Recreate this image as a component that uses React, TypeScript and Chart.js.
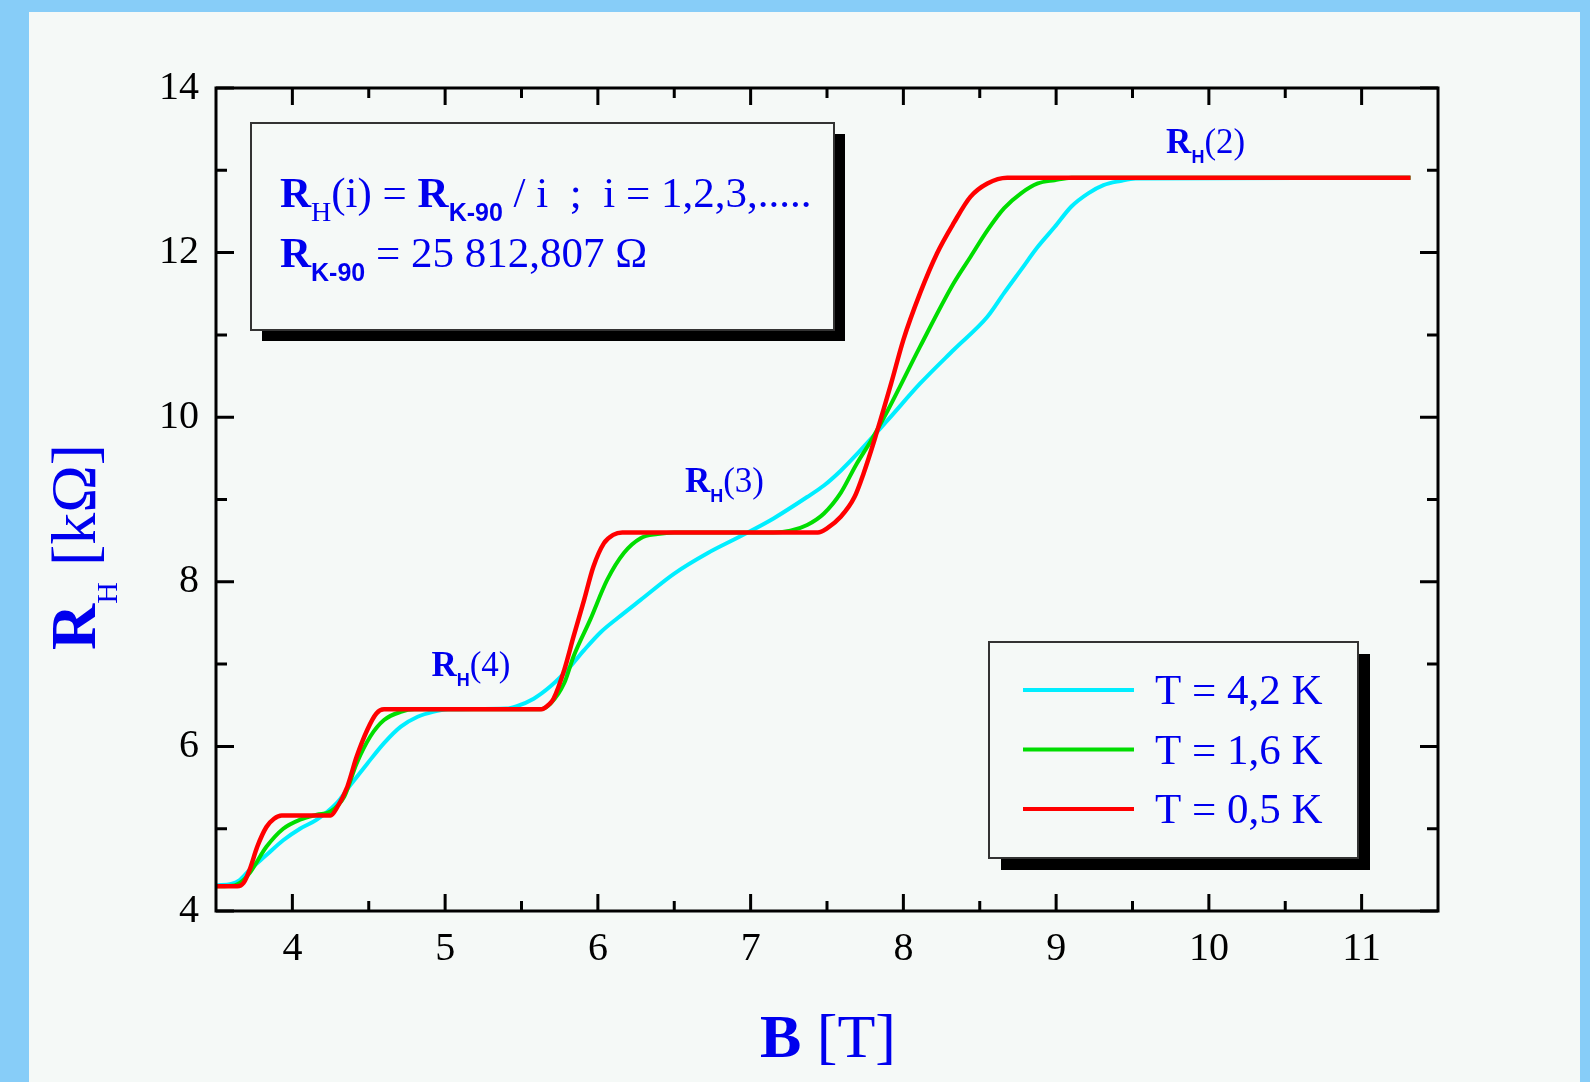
import React, { useEffect, useRef } from 'react';
import { Chart, registerables } from 'chart.js';

Chart.register(...registerables);

// ---- data ----
const B_42 = [3.50, 3.60, 3.65, 3.72, 3.83, 3.94, 4.05, 4.16, 4.29, 4.38, 4.49, 4.60, 4.71, 4.82, 4.92, 5.02, 5.40, 5.47, 5.58, 5.69, 5.80, 5.91, 6.02, 6.13, 6.28, 6.50, 6.72, 6.93, 7.15, 7.37, 7.48, 7.59, 7.68, 7.90, 8.11, 8.33, 8.55, 8.66, 8.77, 8.88, 8.99, 9.10, 9.21, 9.31, 9.42, 9.52, 11.32];
const R_42 = [4.31, 4.33, 4.37, 4.50, 4.68, 4.86, 5.00, 5.11, 5.31, 5.53, 5.79, 6.04, 6.24, 6.36, 6.42, 6.45, 6.46, 6.49, 6.58, 6.73, 6.93, 7.17, 7.39, 7.56, 7.78, 8.10, 8.35, 8.55, 8.77, 9.03, 9.17, 9.35, 9.52, 9.97, 10.41, 10.82, 11.22, 11.51, 11.79, 12.07, 12.31, 12.56, 12.72, 12.82, 12.87, 12.90, 12.91];

const B_16 = [3.50, 3.62, 3.67, 3.72, 3.83, 3.94, 4.05, 4.16, 4.25, 4.34, 4.42, 4.51, 4.60, 4.71, 4.80, 5.62, 5.69, 5.78, 5.84, 5.95, 6.06, 6.17, 6.28, 6.39, 6.50, 7.15, 7.26, 7.37, 7.48, 7.59, 7.69, 7.79, 7.90, 8.11, 8.33, 8.44, 8.55, 8.66, 8.77, 8.88, 8.99, 9.10, 11.32];
const R_16 = [4.30, 4.31, 4.36, 4.46, 4.78, 5.00, 5.11, 5.17, 5.21, 5.39, 5.79, 6.12, 6.32, 6.42, 6.45, 6.45, 6.52, 6.77, 7.09, 7.54, 8.02, 8.35, 8.53, 8.58, 8.60, 8.60, 8.62, 8.69, 8.83, 9.08, 9.42, 9.72, 10.09, 10.86, 11.63, 11.95, 12.27, 12.54, 12.72, 12.84, 12.88, 12.91, 12.91];

const B_05 = [3.50, 3.64, 3.68, 3.72, 3.77, 3.83, 3.88, 3.93, 4.25, 4.29, 4.36, 4.42, 4.49, 4.55, 4.60, 4.64, 5.63, 5.68, 5.71, 5.78, 5.84, 5.91, 5.97, 6.04, 6.10, 6.16, 7.44, 7.50, 7.59, 7.68, 7.74, 7.81, 7.92, 8.00, 8.11, 8.22, 8.33, 8.44, 8.55, 8.68, 11.32];
const R_05 = [4.30, 4.30, 4.34, 4.50, 4.78, 5.02, 5.12, 5.16, 5.16, 5.25, 5.51, 5.87, 6.20, 6.40, 6.45, 6.45, 6.45, 6.51, 6.58, 6.93, 7.33, 7.78, 8.18, 8.47, 8.57, 8.60, 8.60, 8.65, 8.79, 9.03, 9.32, 9.72, 10.41, 10.94, 11.51, 11.99, 12.36, 12.68, 12.84, 12.91, 12.91];

const SERIES_LABELS = ['T = 4,2 K', 'T = 1,6 K', 'T = 0,5 K'];
const X_TICKS = [4, 5, 6, 7, 8, 9, 10, 11];
const X_MINOR = [4.5, 5.5, 6.5, 7.5, 8.5, 9.5, 10.5];
const Y_TICKS = [4, 6, 8, 10, 12, 14];
const Y_MINOR = [5, 7, 9, 11, 13];
const PLATEAU_INDICES = ['2', '3', '4'];
const FORMULA_LINE_1 = ['R', 'H', '(i) = ', 'R', 'K-90', ' / i  ;  i = 1,2,3,.....'];
const FORMULA_LINE_2 = ['R', 'K-90', ' = 25 812,807 Ω'];

// ---- styles ----
const SERIF = '"Liberation Serif", "Times New Roman", serif';
const SANS = '"Liberation Sans", Arial, sans-serif';
const BLUE = '#0000ee';
const PANEL = '#f5f9f7';
const SKY = '#87cdf8';
const COLORS = ['#00eeff', '#00dd00', '#ff0000'];

type Seg = { t: string; font: string; dy?: number };

function drawRich(ctx: CanvasRenderingContext2D, segs: Seg[], x: number, y: number) {
  let cx = x;
  for (const s of segs) {
    ctx.font = s.font;
    ctx.fillText(s.t, cx, y + (s.dy || 0));
    cx += ctx.measureText(s.t).width;
  }
}

function shadowBox(ctx: CanvasRenderingContext2D, x: number, y: number, w: number, h: number, off: number) {
  ctx.fillStyle = '#000';
  ctx.fillRect(x + off, y + off, w, h);
  ctx.fillStyle = PANEL;
  ctx.fillRect(x, y, w, h);
  ctx.strokeStyle = '#333';
  ctx.lineWidth = 2;
  ctx.strokeRect(x, y, w, h);
}

const decorPlugin = {
  id: 'decor',
  afterDraw(chart: any) {
    const ctx: CanvasRenderingContext2D = chart.ctx;
    const { left, right, top, bottom } = chart.chartArea;
    const xs = chart.scales.x;
    const ys = chart.scales.y;
    ctx.save();

    // frame
    ctx.strokeStyle = '#000';
    ctx.lineWidth = 3;
    ctx.strokeRect(left, top, right - left, bottom - top);

    // ticks (inward, all four sides)
    ctx.lineWidth = 3;
    ctx.beginPath();
    const xTick = (v: number, len: number) => {
      const p = xs.getPixelForValue(v);
      ctx.moveTo(p, bottom); ctx.lineTo(p, bottom - len);
      ctx.moveTo(p, top); ctx.lineTo(p, top + len);
    };
    const yTick = (v: number, len: number) => {
      const p = ys.getPixelForValue(v);
      ctx.moveTo(left, p); ctx.lineTo(left + len, p);
      ctx.moveTo(right, p); ctx.lineTo(right - len, p);
    };
    X_TICKS.forEach(v => xTick(v, 17));
    X_MINOR.forEach(v => xTick(v, 10));
    Y_TICKS.forEach(v => yTick(v, 18));
    Y_MINOR.forEach(v => yTick(v, 11));
    ctx.stroke();

    ctx.textAlign = 'left';
    ctx.textBaseline = 'alphabetic';

    // formula box
    shadowBox(ctx, 251, 123, 583, 207, 11);
    ctx.fillStyle = BLUE;
    const big = `43px ${SERIF}`;
    const bigB = `bold 43px ${SERIF}`;
    const subS = `bold 25px ${SANS}`;
    drawRich(ctx, [
      { t: FORMULA_LINE_1[0], font: bigB },
      { t: FORMULA_LINE_1[1], font: `28px ${SERIF}`, dy: 14 },
      { t: FORMULA_LINE_1[2], font: big },
      { t: FORMULA_LINE_1[3], font: bigB },
      { t: FORMULA_LINE_1[4], font: subS, dy: 14 },
      { t: FORMULA_LINE_1[5], font: big },
    ], 280, 207);
    drawRich(ctx, [
      { t: FORMULA_LINE_2[0], font: bigB },
      { t: FORMULA_LINE_2[1], font: subS, dy: 14 },
      { t: FORMULA_LINE_2[2], font: big },
    ], 280, 267);

    // legend box
    shadowBox(ctx, 989, 642, 369, 216, 12);
    chart.data.datasets.forEach((ds: any, i: number) => {
      const base = 704 + i * 59.5;
      ctx.strokeStyle = ds.borderColor;
      ctx.lineWidth = 4;
      ctx.beginPath();
      ctx.moveTo(1023, base - 14);
      ctx.lineTo(1134, base - 14);
      ctx.stroke();
      ctx.fillStyle = BLUE;
      ctx.font = `43px ${SERIF}`;
      ctx.fillText(ds.label, 1155, base);
    });

    // plateau annotations
    const anchors = [[9.72, 13.21], [6.57, 9.09], [4.91, 6.85]];
    PLATEAU_INDICES.forEach((n, i) => {
      const px = xs.getPixelForValue(anchors[i][0]);
      const py = ys.getPixelForValue(anchors[i][1]);
      ctx.fillStyle = BLUE;
      drawRich(ctx, [
        { t: 'R', font: `bold 35px ${SERIF}` },
        { t: 'H', font: `bold 18px ${SANS}`, dy: 10 },
        { t: `(${n})`, font: `35px ${SERIF}` },
      ], px, py);
    });

    // axis titles
    ctx.fillStyle = BLUE;
    drawRich(ctx, [
      { t: 'B', font: `bold 62px ${SERIF}` },
      { t: ' [T]', font: `62px ${SERIF}` },
    ], 760, 1057);

    ctx.save();
    ctx.translate(95, 650);
    ctx.rotate(-Math.PI / 2);
    drawRich(ctx, [
      { t: 'R', font: `bold 64px ${SERIF}` },
      { t: 'H', font: `30px ${SERIF}`, dy: 22 },
      { t: ' [kΩ]', font: `64px ${SERIF}` },
    ], 0, 0);
    ctx.restore();

    ctx.restore();
  },
};

export default function App() {
  const ref = useRef<HTMLCanvasElement | null>(null);

  useEffect(() => {
    if (!ref.current) return;
    const mk = (b: number[], r: number[]) => b.map((x, i) => ({ x, y: r[i] }));
    const chart = new Chart(ref.current, {
      type: 'line',
      data: {
        datasets: [
          { label: SERIES_LABELS[0], data: mk(B_42, R_42), borderColor: COLORS[0], borderWidth: 4, pointRadius: 0, cubicInterpolationMode: 'monotone', order: 2 },
          { label: SERIES_LABELS[1], data: mk(B_16, R_16), borderColor: COLORS[1], borderWidth: 4, pointRadius: 0, cubicInterpolationMode: 'monotone', order: 1 },
          { label: SERIES_LABELS[2], data: mk(B_05, R_05), borderColor: COLORS[2], borderWidth: 4.5, pointRadius: 0, cubicInterpolationMode: 'monotone', order: 0 },
        ] as any,
      },
      options: {
        responsive: false,
        animation: false,
        devicePixelRatio: 1,
        events: [],
        layout: { padding: { top: 88, right: 152, left: 0, bottom: 0 } },
        plugins: { legend: { display: false }, tooltip: { enabled: false } },
        scales: {
          x: {
            type: 'linear',
            min: 3.5,
            max: 11.5,
            afterBuildTicks: (s: any) => { s.ticks = X_TICKS.map(v => ({ value: v })); },
            afterFit: (s: any) => { s.height = 171; },
            grid: { display: false, drawTicks: false },
            border: { display: false },
            ticks: { color: '#000', padding: 14, maxRotation: 0, font: { family: 'Liberation Serif', size: 40 }, callback: (v: any) => String(v) },
          },
          y: {
            type: 'linear',
            min: 4,
            max: 14,
            afterBuildTicks: (s: any) => { s.ticks = Y_TICKS.map(v => ({ value: v })); },
            afterFit: (s: any) => { s.width = 216; },
            grid: { display: false, drawTicks: false },
            border: { display: false },
            ticks: { color: '#000', padding: 17, font: { family: 'Liberation Serif', size: 40 }, callback: (v: any) => String(v) },
          },
        },
      } as any,
      plugins: [decorPlugin],
    });
    return () => chart.destroy();
  }, []);

  return (
    <div style={{ position: 'fixed', left: 0, top: 0, width: 1590, height: 1082, background: SKY, overflow: 'hidden' }}>
      <div style={{ position: 'absolute', left: 29, top: 12, width: 1551, height: 1070, background: PANEL }} />
      <canvas ref={ref} width={1590} height={1082} style={{ position: 'absolute', left: 0, top: 0, width: 1590, height: 1082 }} />
    </div>
  );
}
